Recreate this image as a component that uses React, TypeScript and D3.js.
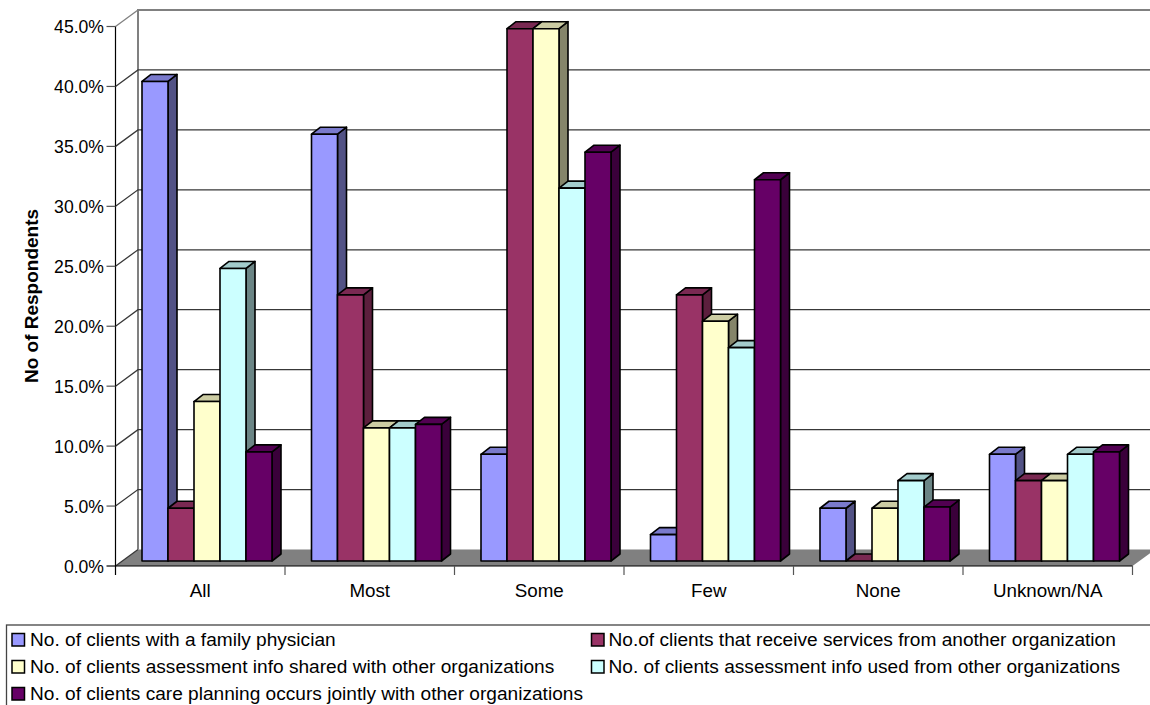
import React from "react";
import * as d3 from "d3";

const categories = ["All", "Most", "Some", "Few", "None", "Unknown/NA"];
const seriesNames = [
  "No. of clients with a family physician",
  "No.of clients that receive services from another organization",
  "No. of clients assessment info shared with other organizations",
  "No. of clients assessment info used from other organizations",
  "No. of clients care planning occurs jointly with other organizations",
];
const physician = [40.0, 35.6, 8.9, 2.2, 4.4, 8.9];
const services = [4.4, 22.2, 44.4, 22.2, 0, 6.7];
const shared = [13.3, 11.1, 44.4, 20.0, 4.4, 6.7];
const used = [24.4, 11.1, 31.1, 17.8, 6.7, 8.9];
const planning = [9.1, 11.4, 34.1, 31.8, 4.5, 9.1];
const seriesValues = [physician, services, shared, used, planning];
const front = ["#9999ff", "#993366", "#ffffcc", "#ccffff", "#660066"];
const top = ["#7a7acc", "#7a2952", "#cccca3", "#a3cccc", "#520052"];
const side = ["#525285", "#5c1f3d", "#85856a", "#6b8585", "#3a003a"];
const yTicks = d3.range(0, 50, 5);

// Plot frame: front plane of the 3D box and the depth of its walls
const x0 = 115.5, x1 = 1132.5, yBase = 566, yTop = 26.5;
const depthX = 22.5, depthY = -16.5;
const barDepthX = 9, barDepthY = -7;
const barInsetX = 26.5, barInsetY = -5, barWidth = 26;

const font = "'Liberation Sans', Arial, sans-serif";

export default function App() {
  const y = d3.scaleLinear().domain([0, 45]).range([yBase, yTop]);
  const xCat = d3.scaleBand<string>().domain(categories).range([x0, x1]);

  const legendItems = [
    { i: 0, sx: 12, textX: 30, base: 646 },
    { i: 1, sx: 591.5, textX: 608.5, base: 646 },
    { i: 2, sx: 12, textX: 30, base: 673 },
    { i: 3, sx: 591.5, textX: 608.5, base: 673 },
    { i: 4, sx: 12, textX: 30, base: 700 },
  ];

  return (
    <svg
      width={1150}
      height={705}
      style={{ position: "absolute", left: 0, top: 0, background: "#fff" }}
      fontFamily={font}
    >
      {/* floor */}
      <polygon
        points={`${x0},${yBase} ${x0 + depthX},${yBase + depthY} ${x1 + depthX},${yBase + depthY} ${x1},${yBase}`}
        fill="#808080"
      />
      {/* back wall frame */}
      <path
        d={`M${x0 + depthX},${yBase + depthY}V${yTop + depthY}H${1150}`}
        fill="none"
        stroke="#808080"
        strokeWidth={2}
      />
      {/* gridlines on the back and left walls */}
      {yTicks.map((t) => (
        <path
          key={t}
          d={`M${x0},${y(t)}L${x0 + depthX},${y(t) + depthY}${t > 0 && t < 45 ? `H${1150}` : ""}`}
          fill="none"
          stroke={t === 45 ? "#808080" : "#383838"}
          strokeWidth={1.3}
        />
      ))}
      {/* bars */}
      {categories.map((c, ci) =>
        seriesValues.map((vals, si) => {
          const bx = (xCat(c) as number) + barInsetX + si * barWidth;
          const by = y(vals[ci]) + barInsetY;
          const bb = y(0) + barInsetY;
          const w = barWidth;
          const h = bb - by;
          return (
            <g key={`${ci}-${si}`} stroke="#000" strokeWidth={1.6} strokeLinejoin="round">
              <polygon
                points={`${bx + w},${by} ${bx + w + barDepthX},${by + barDepthY} ${bx + w + barDepthX},${bb + barDepthY} ${bx + w},${bb}`}
                fill={side[si]}
              />
              <polygon
                points={`${bx},${by} ${bx + barDepthX},${by + barDepthY} ${bx + w + barDepthX},${by + barDepthY} ${bx + w},${by}`}
                fill={top[si]}
              />
              <rect x={bx} y={by} width={w} height={h} fill={front[si]} />
            </g>
          );
        })
      )}
      {/* axes */}
      <line x1={x0} x2={x0} y1={yTop} y2={575} stroke="#000" strokeWidth={1.2} />
      <line x1={x0} x2={x1} y1={yBase} y2={yBase} stroke="#000" strokeWidth={1.2} />
      {yTicks.map((t) => (
        <g key={t}>
          <line x1={x0 - 9} x2={x0} y1={y(t)} y2={y(t)} stroke={t === 0 ? "#000" : "#555"} strokeWidth={1.2} />
          <text x={104} y={y(t) + 6.5} textAnchor="end" fontSize={17.6} fill="#000">
            {t.toFixed(1)}%
          </text>
        </g>
      ))}
      {categories.map((c) => (
        <g key={c}>
          <line
            x1={(xCat(c) as number) + xCat.bandwidth()}
            x2={(xCat(c) as number) + xCat.bandwidth()}
            y1={yBase}
            y2={575}
            stroke="#555"
            strokeWidth={1.2}
          />
          <text
            x={(xCat(c) as number) + xCat.bandwidth() / 2}
            y={597}
            textAnchor="middle"
            fontSize={18.8}
            fill="#000"
          >
            {c}
          </text>
        </g>
      ))}
      <text
        transform="translate(38,296) rotate(-90)"
        textAnchor="middle"
        fontSize={19}
        fontWeight="bold"
        fill="#000"
      >
        No of Respondents
      </text>
      {/* legend */}
      <rect x={6.5} y={625} width={1150} height={90} fill="#fff" stroke="#444" strokeWidth={1.3} />
      {legendItems.map(({ i, sx, textX, base }) => (
        <g key={i}>
          <rect x={sx} y={base - 12.5} width={12.5} height={12.5} fill={front[i]} stroke="#000" strokeWidth={1.5} />
          <text x={textX} y={base} fontSize={19.1} fill="#000">
            {seriesNames[i]}
          </text>
        </g>
      ))}
    </svg>
  );
}
